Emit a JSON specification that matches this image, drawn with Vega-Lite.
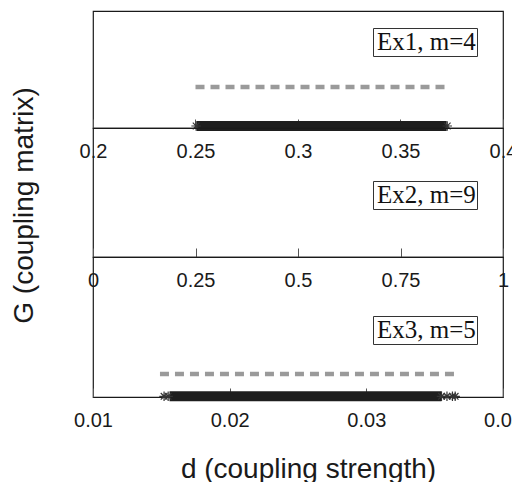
{
  "$schema": "https://vega.github.io/schema/vega-lite/v6.json",
  "background": "white",
  "padding": {"left": 9, "top": 10, "right": 5, "bottom": 5},
  "spacing": 0,
  "bounds": "flush",
  "config": {
    "view": {"stroke": "#1a1a1a", "strokeWidth": 1.2},
    "axis": {
      "grid": false,
      "domainColor": "#1a1a1a",
      "domainWidth": 1.2,
      "tickColor": "#555",
      "tickSize": -9,
      "tickWidth": 1,
      "labelFont": "Liberation Sans, Arial, sans-serif",
      "labelFontSize": 20,
      "labelColor": "#1a1a1a",
      "labelPadding": 22,
      "labelFlush": false,
      "labelOverlap": false,
      "labelBound": false,
      "titleFont": "Liberation Sans, Arial, sans-serif",
      "titleFontSize": 28,
      "titleFontWeight": "normal",
      "titleColor": "#1a1a1a"
    },
    "legend": {
      "labelFont": "Liberation Serif, serif",
      "labelFontSize": 25,
      "labelColor": "#111",
      "strokeColor": "#333",
      "padding": 1,
      "symbolSize": 0,
      "symbolOpacity": 0,
      "symbolStrokeWidth": 0,
      "labelOffset": -22,
      "labelLimit": 0
    }
  },
  "datasets": {
    "segments": [
      {"ex": "Ex1, m=4", "series": "bound", "d_start": 0.25, "d_end": 0.3725, "g": 0.35},
      {"ex": "Ex1, m=4", "series": "found", "d_start": 0.2505, "d_end": 0.3725, "g": 0.017},
      {"ex": "Ex3, m=5", "series": "bound", "d_start": 0.0149, "d_end": 0.0366, "g": 0.164},
      {"ex": "Ex3, m=5", "series": "found", "d_start": 0.0156, "d_end": 0.0355, "g": 0.005}
    ],
    "stars": [
      {"ex": "Ex1, m=4", "d": 0.2503, "g": 0.017},
      {"ex": "Ex1, m=4", "d": 0.3728, "g": 0.017},
      {"ex": "Ex3, m=5", "d": 0.0152, "g": 0.005},
      {"ex": "Ex3, m=5", "d": 0.0155, "g": 0.005},
      {"ex": "Ex3, m=5", "d": 0.0355, "g": 0.005},
      {"ex": "Ex3, m=5", "d": 0.0359, "g": 0.005},
      {"ex": "Ex3, m=5", "d": 0.0363, "g": 0.005},
      {"ex": "Ex3, m=5", "d": 0.0365, "g": 0.005}
    ],
    "labels": [
      {"ex": "Ex1, m=4"},
      {"ex": "Ex2, m=9"},
      {"ex": "Ex3, m=5"}
    ]
  },
  "resolve": {
    "scale": {"x": "independent", "y": "independent", "color": "independent"},
    "axis": {"x": "independent", "y": "independent"},
    "legend": {"color": "independent"}
  },
  "vconcat": [
    {
      "width": 410,
      "height": 117,
      "layer": [
        {
          "data": {"name": "segments"},
          "transform": [{"filter": "datum.ex === 'Ex1, m=4' && datum.series === 'bound'"}],
          "mark": {"type": "rule", "color": "#9a9a9a", "strokeWidth": 4.5, "strokeDash": [9, 6], "strokeCap": "butt"},
          "encoding": {
            "x": {"field": "d_start", "type": "quantitative", "scale": {"domain": [0.2, 0.4], "nice": false, "zero": false},
                  "axis": {"values": [0.2, 0.25, 0.3, 0.35, 0.4], "format": ".2~f", "title": null}},
            "x2": {"field": "d_end"},
            "y": {"field": "g", "type": "quantitative", "scale": {"domain": [0, 1]}, "axis": null}
          }
        },
        {
          "data": {"name": "segments"},
          "transform": [{"filter": "datum.ex === 'Ex1, m=4' && datum.series === 'found'"}],
          "mark": {"type": "rule", "color": "#1e1e1e", "strokeWidth": 10, "strokeCap": "butt"},
          "encoding": {
            "x": {"field": "d_start", "type": "quantitative"},
            "x2": {"field": "d_end"},
            "y": {"field": "g", "type": "quantitative"}
          }
        },
        {
          "data": {"name": "stars"},
          "transform": [{"filter": "datum.ex === 'Ex1, m=4'"}],
          "mark": {"type": "point", "shape": "M-1,0L1,0M0,-1L0,1M-0.7,-0.7L0.7,0.7M-0.7,0.7L0.7,-0.7", "filled": false, "stroke": "#333", "strokeWidth": 1.2, "size": 90, "opacity": 1},
          "encoding": {
            "x": {"field": "d", "type": "quantitative"},
            "y": {"field": "g", "type": "quantitative"}
          }
        },
        {
          "data": {"name": "labels"},
          "transform": [{"filter": "datum.ex === 'Ex1, m=4'"}],
          "mark": {"type": "point", "opacity": 0},
          "encoding": {
            "color": {"field": "ex", "type": "nominal", "scale": {"range": ["#1a1a1a"]},
                      "legend": {"title": null, "orient": "none", "legendX": 280, "legendY": 17}}
          }
        }
      ]
    },
    {
      "width": 410,
      "height": 129,
      "layer": [
        {
          "data": {"name": "segments"},
          "transform": [{"filter": "datum.ex === 'Ex2, m=9'"}],
          "mark": {"type": "rule", "color": "#1e1e1e", "strokeWidth": 10},
          "encoding": {
            "x": {"field": "d_start", "type": "quantitative", "scale": {"domain": [0, 1], "nice": false},
                  "axis": {"values": [0, 0.25, 0.5, 0.75, 1], "format": ".2~f", "title": null}},
            "x2": {"field": "d_end"},
            "y": {"field": "g", "type": "quantitative", "scale": {"domain": [0, 1]},
                  "axis": {"title": "G (coupling matrix)", "domain": false, "ticks": false, "labels": false,
                           "titleX": -61, "titleY": 77, "titleAngle": 270, "titleBaseline": "alphabetic", "titleAlign": "center"}}
          }
        },
        {
          "data": {"name": "labels"},
          "transform": [{"filter": "datum.ex === 'Ex2, m=9'"}],
          "mark": {"type": "point", "opacity": 0},
          "encoding": {
            "color": {"field": "ex", "type": "nominal", "scale": {"range": ["#1a1a1a"]},
                      "legend": {"title": null, "orient": "none", "legendX": 280, "legendY": 53}}
          }
        }
      ]
    },
    {
      "width": 410,
      "height": 140,
      "layer": [
        {
          "data": {"name": "segments"},
          "transform": [{"filter": "datum.ex === 'Ex3, m=5' && datum.series === 'bound'"}],
          "mark": {"type": "rule", "color": "#9a9a9a", "strokeWidth": 4.5, "strokeDash": [9, 6], "strokeCap": "butt"},
          "encoding": {
            "x": {"field": "d_start", "type": "quantitative", "scale": {"domain": [0.01, 0.04], "nice": false, "zero": false},
                  "axis": {"values": [0.01, 0.02, 0.03, 0.04], "format": ".2~f", "title": "d (coupling strength)",
                           "titleX": 215, "titleY": 80, "titleBaseline": "alphabetic", "titleAlign": "center"}},
            "x2": {"field": "d_end"},
            "y": {"field": "g", "type": "quantitative", "scale": {"domain": [0, 1]}, "axis": null}
          }
        },
        {
          "data": {"name": "segments"},
          "transform": [{"filter": "datum.ex === 'Ex3, m=5' && datum.series === 'found'"}],
          "mark": {"type": "rule", "color": "#1e1e1e", "strokeWidth": 10, "strokeCap": "butt"},
          "encoding": {
            "x": {"field": "d_start", "type": "quantitative"},
            "x2": {"field": "d_end"},
            "y": {"field": "g", "type": "quantitative"}
          }
        },
        {
          "data": {"name": "stars"},
          "transform": [{"filter": "datum.ex === 'Ex3, m=5'"}],
          "mark": {"type": "point", "shape": "M-1,0L1,0M0,-1L0,1M-0.7,-0.7L0.7,0.7M-0.7,0.7L0.7,-0.7", "filled": false, "stroke": "#333", "strokeWidth": 1.2, "size": 90, "opacity": 1},
          "encoding": {
            "x": {"field": "d", "type": "quantitative"},
            "y": {"field": "g", "type": "quantitative"}
          }
        },
        {
          "data": {"name": "labels"},
          "transform": [{"filter": "datum.ex === 'Ex3, m=5'"}],
          "mark": {"type": "point", "opacity": 0},
          "encoding": {
            "color": {"field": "ex", "type": "nominal", "scale": {"range": ["#1a1a1a"]},
                      "legend": {"title": null, "orient": "none", "legendX": 280, "legendY": 59}}
          }
        }
      ]
    }
  ]
}
